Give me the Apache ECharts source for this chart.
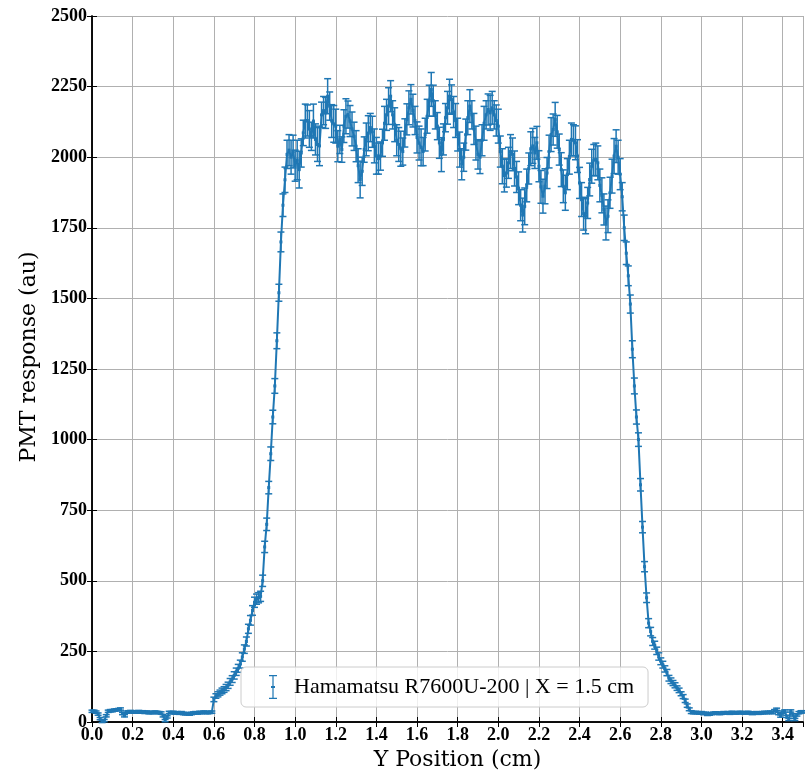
<!DOCTYPE html>
<html>
<head>
<meta charset="utf-8">
<script src="https://cdn.jsdelivr.net/npm/echarts@6/dist/echarts.min.js"></script>
<style>
  html, body { margin: 0; padding: 0; background: #fff; }
  #chart { width: 805px; height: 776px; }
</style>
</head>
<body>
<div id="chart"></div>
<script>
// scan along Y, one reading every 0.01 cm from 0.00 to 3.50
const scanStart = 0.0;
const scanStep = 0.01;

const response = [
  38, 38, 35, 28, 12, 2, 5, 22, 38, 40,
  40, 42, 43, 44, 46, 30, 22, 35, 36, 37,
  36, 35, 36, 37, 35, 36, 34, 35, 33, 34,
  33, 35, 34, 33, 32, 22, 5, 18, 34, 33,
  34, 32, 33, 31, 33, 30, 29, 30, 28, 30,
  32, 33, 32, 34, 33, 35, 34, 33, 34, 35,
  80, 92, 98, 104, 110, 115, 122, 130, 142, 152,
  165, 178, 190, 205, 230, 258, 285, 330, 360, 395,
  424, 435, 440, 445, 500, 620, 700, 830, 950, 1080,
  1190, 1350, 1520, 1700, 1830, 1920, 2010, 2025, 2000, 2020,
  1970, 1990, 1956, 2015, 2086, 2128, 2130, 2100, 2074, 2128,
  2063, 2045, 2040, 2150, 2165, 2157, 2216, 2181, 2128, 2118,
  2110, 2039, 2063, 2027, 2110, 2145, 2151, 2128, 2100, 2074,
  2039, 1970, 1921, 1950, 2027, 2063, 2085, 2105, 2090, 2040,
  2005, 1995, 2004, 2051, 2120, 2150, 2181, 2216, 2150, 2115,
  2060, 2045, 2030, 2020, 2086, 2134, 2175, 2205, 2165, 2130,
  2070, 2050, 2035, 2020, 2080, 2145, 2200, 2240, 2200, 2150,
  2110, 2051, 2009, 2063, 2140, 2175, 2216, 2204, 2160, 2130,
  2080, 2027, 1975, 2000, 2080, 2140, 2181, 2150, 2100, 2050,
  2010, 2000, 2060, 2120, 2150, 2169, 2157, 2175, 2150, 2130,
  2110, 2020, 1968, 1935, 1944, 1980, 2020, 2010, 1960, 1930,
  1890, 1830, 1795, 1826, 1900, 1960, 2030, 2040, 2015, 2051,
  1968, 1895, 1862, 1897, 1944, 2020, 2080, 2098, 2134, 2090,
  2027, 1956, 1897, 1874, 1940, 2000, 2063, 2060, 2051, 2004,
  1909, 1850, 1800, 1791, 1838, 1921, 1968, 1990, 1992, 1980,
  1900, 1865, 1815, 1767, 1791, 1874, 1933, 2004, 2039, 2000,
  1940, 1860, 1750, 1660, 1580, 1480, 1320, 1190, 1080, 1000,
  840, 690, 550, 440, 350, 320, 285, 272, 252, 232,
  215, 203, 188, 175, 155, 146, 138, 130, 120, 112,
  100, 90, 75, 58, 45, 35, 33, 34, 33, 32,
  33, 30, 31, 27, 28, 30, 31, 32, 31, 30,
  31, 33, 32, 33, 31, 34, 33, 32, 33, 34,
  33, 32, 33, 34, 32, 30, 32, 33, 31, 32,
  33, 34, 33, 34, 35, 33, 40, 45, 30, 21,
  35, 39, 20, 9, 39, 25, 9, 25, 33, 36,
  36
];

const responseErr = [
  4, 4, 4, 4, 4, 4, 4, 4, 4, 4,
  4, 4, 4, 4, 4, 4, 4, 4, 4, 4,
  4, 4, 4, 4, 4, 4, 4, 4, 4, 4,
  4, 4, 4, 4, 4, 4, 4, 4, 4, 4,
  4, 4, 4, 4, 4, 4, 4, 4, 4, 4,
  4, 4, 4, 4, 4, 4, 4, 4, 4, 4,
  8, 8, 9, 9, 10, 10, 11, 11, 12, 12,
  13, 13, 14, 14, 15, 15, 16, 16, 17, 17,
  18, 18, 18, 18, 20, 20, 22, 22, 24, 24,
  26, 28, 30, 35, 40, 45, 50, 55, 60, 58,
  55, 70, 65, 50, 45, 60, 55, 65, 50, 60,
  55, 60, 70, 45, 50, 55, 62, 50, 58, 65,
  60, 55, 50, 45, 58, 62, 48, 55, 60, 50,
  55, 60, 65, 50, 45, 58, 62, 50, 55, 60,
  65, 55, 50, 48, 60, 55, 65, 55, 50, 60,
  55, 60, 62, 48, 50, 55, 60, 52, 58, 50,
  55, 60, 65, 50, 58, 60, 55, 60, 55, 50,
  48, 55, 60, 55, 50, 58, 60, 52, 55, 60,
  58, 62, 55, 50, 55, 60, 58, 50, 55, 60,
  52, 58, 55, 60, 50, 55, 62, 58, 50, 55,
  60, 55, 62, 58, 50, 55, 60, 58, 62, 55,
  58, 55, 60, 65, 58, 55, 60, 62, 55, 58,
  55, 58, 60, 62, 55, 58, 60, 55, 60, 58,
  55, 60, 58, 62, 55, 60, 58, 55, 60, 58,
  55, 60, 58, 62, 55, 58, 60, 55, 58, 60,
  58, 62, 55, 60, 58, 55, 60, 62, 58, 60,
  55, 50, 45, 40, 35, 32, 30, 28, 25, 24,
  22, 20, 18, 17, 16, 15, 14, 14, 13, 13,
  12, 12, 11, 11, 10, 10, 9, 9, 8, 8,
  7, 7, 6, 6, 5, 5, 4, 4, 4, 4,
  4, 4, 4, 4, 4, 4, 4, 4, 4, 4,
  4, 4, 4, 4, 4, 4, 4, 4, 4, 4,
  4, 4, 4, 4, 4, 4, 4, 4, 4, 4,
  4, 4, 4, 4, 4, 4, 4, 4, 4, 4,
  4, 4, 4, 4, 4, 4, 4, 4, 4, 4,
  4
];

const seriesName = "Hamamatsu R7600U-200 | X = 1.5 cm";
const xTitle = "Y Position (cm)";
const yTitle = "PMT response (au)";

const BLUE = "#1f77b4";
const SERIF = "'Liberation Serif', 'DejaVu Serif', serif";
const WIDE_SERIF = "'DejaVu Serif', 'Liberation Serif', serif";

const points = response.map((v, i) => [
  +(scanStart + i * scanStep).toFixed(2), v, responseErr[i]
]);

const chart = echarts.init(document.getElementById("chart"));

const tickLabel = { color: "#000", fontFamily: SERIF, fontSize: 18, fontWeight: "bold" };

chart.setOption({
  animation: false,
  backgroundColor: "#fff",
  grid: { left: 92, right: 2, top: 16, bottom: 53 },
  legend: {
    left: 241,
    top: 667,
    orient: "horizontal",
    padding: [8, 14, 8, 28],
    backgroundColor: "rgba(255,255,255,0.8)",
    borderColor: "#cccccc",
    borderWidth: 1,
    borderRadius: 5,
    itemWidth: 8,
    itemHeight: 24,
    textStyle: { color: "#000", fontFamily: SERIF, fontSize: 22, padding: [0, 0, 0, 12] },
    data: [{
      name: seriesName,
      icon: "path://M0,0H8V1.2H4.6V11H6V13H4.6V22.8H8V24H0V22.8H3.4V13H2V11H3.4V1.2H0Z",
      itemStyle: { color: BLUE }
    }]
  },
  xAxis: [{
    type: "value",
    min: 0,
    max: 3.5,
    interval: 0.2,
    name: xTitle,
    nameLocation: "middle",
    nameGap: 27,
    nameTextStyle: { color: "#000", fontFamily: WIDE_SERIF, fontSize: 22, padding: [0, 0, 0, 20] },
    axisLine: { lineStyle: { color: "#000", width: 1.5 } },
    axisTick: { inside: true, length: 5, lineStyle: { color: "#000" } },
    axisLabel: Object.assign({ margin: 4, showMaxLabel: false, formatter: (v) => v.toFixed(1) }, tickLabel),
    splitLine: { show: true, lineStyle: { color: "#b0b0b0", width: 1 } }
  }, {
    type: "value",
    position: "top",
    min: 0,
    max: 3.5,
    interval: 0.2,
    axisLine: { lineStyle: { color: "#000", width: 1.5 } },
    axisTick: { inside: true, length: 5, lineStyle: { color: "#000" } },
    axisLabel: { show: false },
    splitLine: { show: false }
  }],
  yAxis: [{
    type: "value",
    min: 0,
    max: 2500,
    interval: 250,
    name: yTitle,
    nameLocation: "middle",
    nameGap: 45,
    nameTextStyle: { color: "#000", fontFamily: WIDE_SERIF, fontSize: 22, padding: [0, 0, 0, 24] },
    axisLine: { show: true, lineStyle: { color: "#000", width: 1.5 } },
    axisTick: { show: true, inside: true, length: 5, lineStyle: { color: "#000" } },
    axisLabel: Object.assign({ margin: 5, formatter: (v) => String(v) }, tickLabel),
    splitLine: { show: true, lineStyle: { color: "#b0b0b0", width: 1 } }
  }, {
    type: "value",
    position: "right",
    min: 0,
    max: 2500,
    interval: 250,
    axisLine: { show: true, lineStyle: { color: "#000", width: 1.5 } },
    axisTick: { show: true, inside: true, length: 5, lineStyle: { color: "#000" } },
    axisLabel: { show: false },
    splitLine: { show: false }
  }],
  series: [
    {
      name: seriesName,
      type: "line",
      data: points.map((p) => [p[0], p[1]]),
      symbol: "rect",
      symbolSize: 3,
      showSymbol: true,
      itemStyle: { color: BLUE },
      lineStyle: { color: BLUE, width: 2 },
      z: 3
    },
    {
      type: "custom",
      data: points,
      z: 2,
      renderItem: (params, api) => {
        const x = api.value(0);
        const y = api.value(1);
        const e = api.value(2);
        const lo = api.coord([x, y - e]);
        const hi = api.coord([x, y + e]);
        const cap = 3.5;
        const style = { stroke: BLUE, lineWidth: 1.5 };
        return {
          type: "group",
          children: [
            { type: "line", shape: { x1: lo[0], y1: lo[1], x2: hi[0], y2: hi[1] }, style },
            { type: "line", shape: { x1: lo[0] - cap, y1: lo[1], x2: lo[0] + cap, y2: lo[1] }, style },
            { type: "line", shape: { x1: hi[0] - cap, y1: hi[1], x2: hi[0] + cap, y2: hi[1] }, style }
          ]
        };
      }
    }
  ]
});
</script>
</body>
</html>
